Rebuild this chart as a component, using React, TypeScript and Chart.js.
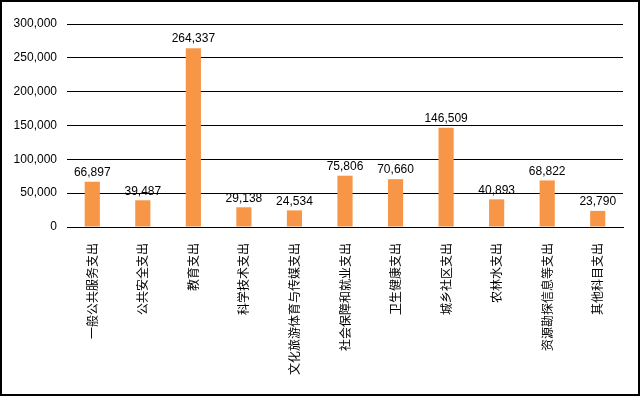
import React, { useEffect, useRef } from "react";
import { Chart, registerables } from "chart.js";

Chart.register(...registerables);

const categories = [
  "一般公共服务支出",
  "公共安全支出",
  "教育支出",
  "科学技术支出",
  "文化旅游体育与传媒支出",
  "社会保障和就业支出",
  "卫生健康支出",
  "城乡社区支出",
  "农林水支出",
  "资源勘探信息等支出",
  "其他科目支出",
];
const values = [66897, 39487, 264337, 29138, 24534, 75806, 70660, 146509, 40893, 68822, 23790];
const yMax = 300000;
const yStep = 50000;

const fmt = (v: number) => v.toLocaleString("en-US");

const valueLabels = {
  id: "valueLabels",
  afterDatasetsDraw(chart: any) {
    const ctx = chart.ctx;
    const meta = chart.getDatasetMeta(0);
    ctx.save();
    ctx.font = "12px 'Liberation Sans'";
    ctx.fillStyle = "#000";
    ctx.textAlign = "center";
    ctx.textBaseline = "bottom";
    meta.data.forEach((el: any, i: number) => {
      ctx.fillText(fmt(values[i]), el.x, el.y - 3);
    });
    ctx.restore();
  },
};

export default function App() {
  const ref = useRef<HTMLCanvasElement>(null);
  useEffect(() => {
    document.body.style.margin = "0";
    const chart = new Chart(ref.current!, {
      type: "bar",
      data: {
        labels: categories,
        datasets: [
          {
            data: values,
            backgroundColor: "#F79646",
            borderWidth: 0,
            barPercentage: 0.3,
            categoryPercentage: 1,
          },
        ],
      },
      options: {
        responsive: false,
        animation: false,
        layout: { padding: { top: 22, right: 15, left: 0, bottom: 0 } },
        plugins: {
          legend: { display: false },
          tooltip: { enabled: false },
        },
        scales: {
          x: {
            grid: { display: false },
            border: { display: true, color: "#000", width: 1 },
            ticks: {
              color: "#000",
              font: { family: "'Noto Sans CJK SC'", size: 12 },
              minRotation: 90,
              maxRotation: 90,
              padding: 8,
              autoSkip: false,
            },
            afterFit(scale: any) {
              scale.height = 167;
            },
          },
          y: {
            min: 0,
            max: yMax,
            border: { display: false },
            grid: { color: "#000", lineWidth: 1, drawTicks: false },
            ticks: {
              stepSize: yStep,
              color: "#000",
              padding: 10,
              font: { family: "'Liberation Sans'", size: 12 },
              callback: (v: any) => fmt(Number(v)),
            },
            afterFit(scale: any) {
              scale.width = 65;
            },
          },
        },
      },
      plugins: [valueLabels],
    });
    return () => chart.destroy();
  }, []);
  return (
    <div
      style={{
        position: "absolute",
        left: 0,
        top: 0,
        width: 640,
        height: 396,
        boxSizing: "border-box",
        border: "2px solid #000",
        background: "#fff",
      }}
    >
      <canvas ref={ref} width={636} height={392} style={{ display: "block" }} />
    </div>
  );
}
